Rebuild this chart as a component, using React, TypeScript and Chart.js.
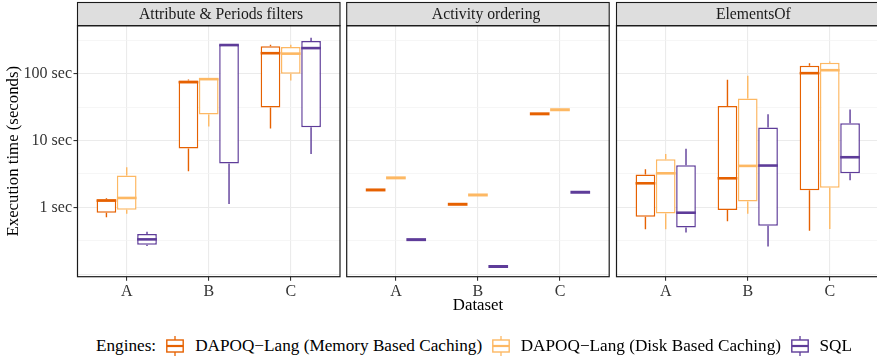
import React, { useEffect, useRef } from 'react';
import { Chart, registerables } from 'chart.js';

Chart.register(...registerables);

const FONT = "'Liberation Serif', 'Times New Roman', serif";

const categories = ['A', 'B', 'C'];
const engines = ['DAPOQ−Lang (Memory Based Caching)', 'DAPOQ−Lang (Disk Based Caching)', 'SQL'];
const engineColors = ['#e66101', '#fdb863', '#5e3c99'];
const panelTitles = ['Attribute & Periods filters', 'Activity ordering', 'ElementsOf'];
const yGridValues = [0.1, 0.316, 1, 3.16, 10, 31.6, 100, 316];
const yMajorValues = [0.1, 1, 10, 100];
const yLabelValues = [1, 10, 100];
const yLabels = ['1 sec', '10 sec', '100 sec'];

// five-number summaries [min, q1, median, q3, max] for datasets A, B, C
const attrMemory = [[0.71, 0.83, 1.26, 1.32, 1.37], [3.47, 7.6, 74.8, 79.4, 82], [15.1, 31.3, 203, 257, 272]];
const attrDisk = [[0.8, 0.92, 1.38, 2.99, 3.98], [16.2, 24.5, 83, 85, 86], [79, 100, 200, 251, 272]];
const attrSql = [[0.264, 0.276, 0.331, 0.4, 0.432], [1.12, 4.52, 269, 272, 275], [6.3, 15.8, 242, 309, 347]];

const orderMemory = [[1.82, 1.82, 1.82, 1.82, 1.82], [1.11, 1.11, 1.11, 1.11, 1.11], [25.1, 25.1, 25.1, 25.1, 25.1]];
const orderDisk = [[2.76, 2.76, 2.76, 2.76, 2.76], [1.53, 1.53, 1.53, 1.53, 1.53], [28.9, 28.9, 28.9, 28.9, 28.9]];
const orderSql = [[0.328, 0.328, 0.328, 0.328, 0.328], [0.13, 0.13, 0.13, 0.13, 0.13], [1.68, 1.68, 1.68, 1.68, 1.68]];

const elemMemory = [[0.468, 0.725, 2.29, 3.09, 3.71], [0.62, 0.91, 2.72, 33, 81], [0.447, 1.8, 102, 132, 144]];
const elemDisk = [[0.468, 0.81, 3.23, 5.25, 6.3], [0.8, 1.22, 4.17, 42.6, 93.6], [0.474, 1.97, 113, 146, 152]];
const elemSql = [[0.42, 0.5, 0.83, 4.26, 7.5], [0.26, 0.53, 4.22, 15.7, 24.8], [2.54, 3.23, 5.62, 18.2, 29.2]];

const panelSeries = [
  [attrMemory, attrDisk, attrSql],
  [orderMemory, orderDisk, orderSql],
  [elemMemory, elemDisk, elemSql],
];

const Y_MIN = 0.0914;
const Y_MAX = 524;

type PanelProps = {
  idx: number;
  left: number;
  width: number;
  padLeft: number;
  padRight: number;
  showY: boolean;
};

const near = (a: number, list: number[]) => list.some((v) => Math.abs(Math.log10(a) - Math.log10(v)) < 0.01);

function Panel({ idx, left, width, padLeft, padRight, showY }: PanelProps) {
  const ref = useRef<HTMLCanvasElement | null>(null);
  useEffect(() => {
    if (!ref.current) return;
    const series = panelSeries[idx];
    const title = panelTitles[idx];
    const boxPlugin = {
      id: 'boxWhiskers' + idx,
      afterDatasetsDraw(chart: any) {
        const ctx = chart.ctx;
        const ys = chart.scales.y;
        ctx.save();
        series.forEach((s, i) => {
          const meta = chart.getDatasetMeta(i);
          meta.data.forEach((el: any, j: number) => {
            const st = s[j];
            const x = el.x;
            const w = el.width;
            ctx.strokeStyle = engineColors[i];
            ctx.lineWidth = 1.4;
            ctx.beginPath();
            ctx.moveTo(x, ys.getPixelForValue(st[3]));
            ctx.lineTo(x, ys.getPixelForValue(st[4]));
            ctx.moveTo(x, ys.getPixelForValue(st[1]));
            ctx.lineTo(x, ys.getPixelForValue(st[0]));
            ctx.stroke();
            const flat = st[1] === st[3];
            ctx.lineWidth = flat ? 3 : 2.6;
            const my = ys.getPixelForValue(st[2]);
            ctx.beginPath();
            ctx.moveTo(x - w / 2, my);
            ctx.lineTo(x + w / 2, my);
            ctx.stroke();
          });
        });
        ctx.restore();
      },
      afterDraw(chart: any) {
        const ctx = chart.ctx;
        const a = chart.chartArea;
        ctx.save();
        ctx.fillStyle = '#dedede';
        ctx.fillRect(a.left, 2.5, a.right - a.left, a.top - 2.5);
        ctx.strokeStyle = '#1a1a1a';
        ctx.lineWidth = 1.1;
        ctx.strokeRect(a.left, 2.5, a.right - a.left, a.top - 2.5);
        ctx.lineWidth = 1.2;
        ctx.strokeRect(a.left, a.top, a.right - a.left, a.bottom - a.top);
        ctx.fillStyle = '#1a1a1a';
        ctx.font = `15.7px ${FONT}`;
        ctx.textAlign = 'left';
        ctx.textBaseline = 'middle';
        const tw = ctx.measureText(title).width;
        ctx.fillText(title, (a.left + a.right) / 2 - 0.425 * tw, (2.5 + a.top) / 2 + 1);
        ctx.restore();
      },
    };

    const chart = new Chart(ref.current, {
      type: 'bar',
      data: {
        datasets: series.map((s, i) => ({
          label: engines[i],
          data: s.map((st, j) => ({ x: j + 1, y: [st[1], st[3]] })),
          backgroundColor: '#ffffff',
          borderColor: engineColors[i],
          borderWidth: 1.5,
          borderSkipped: false,
          categoryPercentage: 0.742,
          barPercentage: 0.97,
        })),
      } as any,
      options: {
        responsive: false,
        animation: false,
        events: [],
        layout: { padding: { top: 25.7, left: padLeft, right: padRight, bottom: 0 } },
        plugins: { legend: { display: false }, tooltip: { enabled: false }, title: { display: false } },
        scales: {
          x: {
            type: 'linear',
            min: 0.4,
            max: 3.6,
            offset: false,
            border: { display: false },
            grid: { offset: false, color: '#ebebeb', lineWidth: 1.1, tickColor: '#333333', tickLength: 4, drawTicks: true },
            afterBuildTicks: (s: any) => {
              s.ticks = categories.map((_, i) => ({ value: i + 1 }));
            },
            ticks: {
              autoSkip: false,
              maxRotation: 0,
              padding: 1,
              color: '#333333',
              font: { family: FONT, size: 16 },
              callback: (v: any) => categories[Number(v) - 1] ?? '',
            },
            afterFit: (s: any) => {
              s.height = 23.3;
            },
          },
          y: {
            type: 'logarithmic',
            min: Y_MIN,
            max: Y_MAX,
            border: { display: false },
            grid: {
              color: (c: any) => (c.tick && near(c.tick.value, yMajorValues) ? '#ebebeb' : '#f2f2f2'),
              lineWidth: (c: any) => (c.tick && near(c.tick.value, yMajorValues) ? 1.1 : 0.7),
              tickColor: (c: any) => (c.tick && near(c.tick.value, yLabelValues) ? '#333333' : 'rgba(0,0,0,0)'),
              tickLength: 4,
              drawTicks: showY,
            },
            afterBuildTicks: (s: any) => {
              s.ticks = yGridValues.map((v) => ({ value: v }));
            },
            ticks: {
              display: showY,
              padding: 1.5,
              color: '#333333',
              font: { family: FONT, size: 16 },
              callback: (v: any) => {
                const k = yLabelValues.findIndex((t) => near(Number(v), [t]));
                return k >= 0 ? yLabels[k] : '';
              },
            },
            title: {
              display: showY,
              text: 'Execution time (seconds)',
              color: '#000000',
              font: { family: FONT, size: 16.8 },
              padding: { top: 4, bottom: 0 },
            },
            afterFit: (s: any) => {
              s.width = showY ? 77.5 : 0;
            },
          },
        },
      } as any,
      plugins: [boxPlugin],
    });
    return () => chart.destroy();
  }, [idx, padLeft, padRight, showY]);

  return (
    <canvas
      ref={ref}
      width={width}
      height={300}
      style={{ position: 'absolute', left, top: 0, width, height: 300 }}
    />
  );
}

function Glyph({ color }: { color: string }) {
  return (
    <svg width="18" height="20" style={{ display: 'block' }}>
      <line x1="9" y1="0" x2="9" y2="4" stroke={color} strokeWidth="1.3" />
      <line x1="9" y1="16" x2="9" y2="20" stroke={color} strokeWidth="1.3" />
      <rect x="0.8" y="4" width="16.4" height="12" fill="#ffffff" stroke={color} strokeWidth="1.4" />
      <line x1="0.8" y1="10" x2="17.2" y2="10" stroke={color} strokeWidth="2.2" />
    </svg>
  );
}

export default function App() {
  return (
    <div
      style={{
        position: 'fixed',
        left: 0,
        top: 0,
        width: 877,
        height: 360,
        overflow: 'hidden',
        background: '#ffffff',
        fontFamily: FONT,
      }}
    >
      <Panel idx={0} left={0} width={345} padLeft={0} padRight={5} showY={true} />
      <Panel idx={1} left={340} width={275} padLeft={6.7} padRight={5.8} showY={false} />
      <Panel idx={2} left={610} width={275} padLeft={6.5} padRight={6} showY={false} />
      <div
        style={{
          position: 'absolute',
          left: 378,
          width: 200,
          top: 295,
          textAlign: 'center',
          fontSize: 16.8,
          lineHeight: '20px',
          color: '#000',
        }}
      >
        Dataset
      </div>
      <div
        style={{
          position: 'absolute',
          left: 96,
          top: 336,
          height: 20,
          display: 'flex',
          alignItems: 'center',
          whiteSpace: 'nowrap',
          fontSize: 17.2,
          color: '#000',
        }}
      >
        <span style={{ marginRight: 10 }}>Engines:</span>
        {engines.map((e, i) => (
          <React.Fragment key={e}>
            <Glyph color={engineColors[i]} />
            <span style={{ marginLeft: 11, marginRight: i < engines.length - 1 ? 9.5 : 0 }}>{e}</span>
          </React.Fragment>
        ))}
      </div>
    </div>
  );
}
